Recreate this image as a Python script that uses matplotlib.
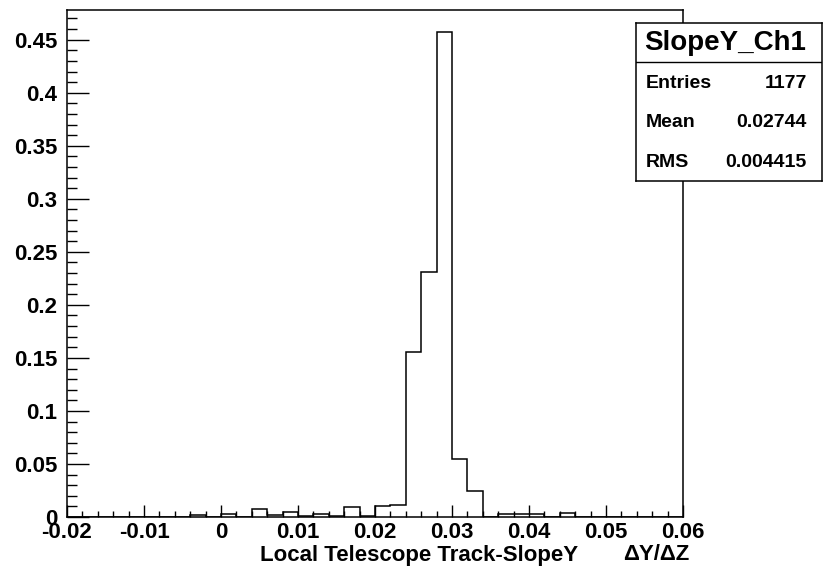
import matplotlib.pyplot as plt
import numpy as np

plt.rcParams['font.family'] = ['Liberation Sans', 'DejaVu Sans']
plt.rcParams['font.weight'] = 'bold'

# Datos (histograma normalizado, 40 bins de -0.02 a 0.06)
x_min, x_max, n_bins = -0.02, 0.06, 40
counts = [0, 0, 0, 0, 0, 0, 0, 0,
          0.0017, 0, 0.0025, 0, 0.0077, 0.0017, 0.0045, 0.0009,
          0.0025, 0.0009, 0.0093, 0.0009, 0.0107, 0.0117, 0.156, 0.2306,
          0.457, 0.0551, 0.0247, 0, 0.0025, 0.0025, 0.0025, 0,
          0.0042, 0, 0, 0, 0, 0, 0, 0]

hist_name = 'SlopeY_Ch1'
stat_names = ['Entries', 'Mean', 'RMS']
stat_values = ['1177', '0.02744', '0.004415']
x_title = 'Local Telescope Track-SlopeY'
x_units = 'ΔY/ΔZ'

W, H = 823, 571
fig = plt.figure(figsize=(W / 100, H / 100), dpi=100)
ax = fig.add_axes([67 / W, 1 - 517 / H, (683 - 67) / W, (517 - 10) / H])

edges = np.linspace(x_min, x_max, n_bins + 1)
ax.stairs(counts, edges, color='black', linewidth=1.1)

ax.set_xlim(x_min, x_max)
ax.set_ylim(0, 0.478)

ax.set_xticks(np.arange(-0.02, 0.0601, 0.01))
ax.set_xticklabels(['-0.02', '-0.01', '0', '0.01', '0.02', '0.03', '0.04', '0.05', '0.06'])
ax.set_xticks(np.arange(-0.02, 0.0601, 0.002), minor=True)
ax.set_yticks(np.arange(0, 0.451, 0.05))
ax.set_yticklabels(['0', '0.05', '0.1', '0.15', '0.2', '0.25', '0.3', '0.35', '0.4', '0.45'])
ax.set_yticks(np.arange(0, 0.471, 0.01), minor=True)

ax.tick_params(axis='both', which='both', direction='in', width=1.0, labelsize=16)
ax.tick_params(axis='x', which='major', length=8.8, pad=3.5)
ax.tick_params(axis='x', which='minor', length=4.4)
ax.tick_params(axis='y', which='major', length=15.6, pad=7)
ax.tick_params(axis='y', which='minor', length=7.4)
for sp in ax.spines.values():
    sp.set_linewidth(1.1)

# Titulo del eje X
fig.text(578 / W, 1 - 555 / H, x_title, ha='right', va='center', fontsize=16, fontweight='bold')
fig.text(689 / W, 1 - 555 / H, x_units, ha='right', va='center', fontsize=16, fontweight='bold')

# Caja de estadisticas
bx0, by0, bx1, by1 = 636, 23, 822, 181
sbox = fig.add_axes([bx0 / W, 1 - by1 / H, (bx1 - bx0) / W, (by1 - by0) / H])
sbox.set_xticks([])
sbox.set_yticks([])
sbox.set_xlim(0, 1)
sbox.set_ylim(0, 1)
for sp in sbox.spines.values():
    sp.set_linewidth(1.1)
sbox.axhline(0.752, color='black', linewidth=1.0)
sbox.text(0.481, 0.872, hist_name, ha='center', va='center', fontsize=20, fontweight='bold')
for i, (nm, val) in enumerate(zip(stat_names, stat_values)):
    yy = [0.619, 0.373, 0.12][i]
    sbox.text(0.054, yy, nm, ha='left', va='center', fontsize=14, fontweight='bold')
    sbox.text(0.918, yy, val, ha='right', va='center', fontsize=14, fontweight='bold')

fig.savefig('out.png', dpi=100)
